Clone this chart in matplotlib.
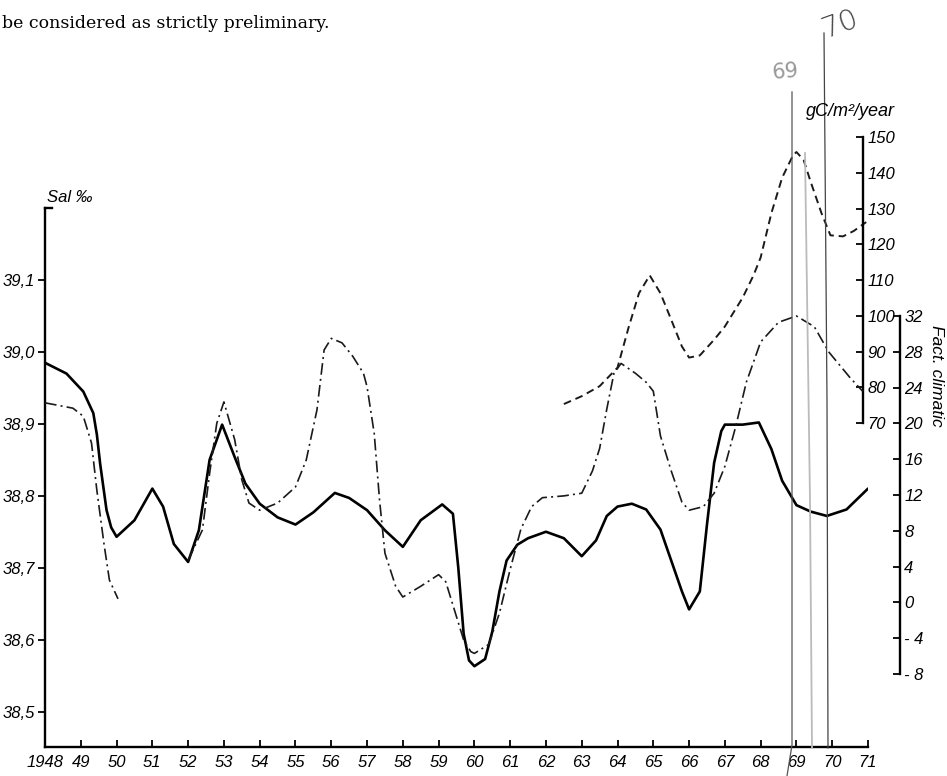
import matplotlib
matplotlib.use("Agg")
import matplotlib.pyplot as plt
import matplotlib.transforms as mtransforms
from matplotlib.lines import Line2D
import numpy as np

# salinity (solid line), Sal ‰
sal_year = [1948.0, 1948.6, 1949.07, 1949.35, 1949.45, 1949.54, 1949.72, 1949.85, 1950.0,
            1950.5, 1951.0, 1951.3, 1951.6, 1952.0, 1952.3, 1952.6, 1952.95, 1953.3, 1953.6,
            1954.0, 1954.5, 1955.0, 1955.5, 1956.1, 1956.5, 1957.0, 1957.5, 1958.0, 1958.5,
            1959.1, 1959.4, 1959.55, 1959.7, 1959.85, 1960.0, 1960.3, 1960.5, 1960.7, 1960.9,
            1961.2, 1961.5, 1962.0, 1962.5, 1963.0, 1963.4, 1963.7, 1964.0, 1964.4, 1964.8,
            1965.2, 1965.5, 1965.8, 1966.0, 1966.3, 1966.5, 1966.7, 1966.9, 1967.0, 1967.5,
            1967.95, 1968.3, 1968.6, 1969.0, 1969.4, 1969.85, 1970.4, 1971.0]
sal = [38.985, 38.970, 38.945, 38.915, 38.885, 38.845, 38.780, 38.756, 38.743,
       38.766, 38.810, 38.785, 38.733, 38.708, 38.752, 38.850, 38.899, 38.854, 38.817,
       38.789, 38.770, 38.760, 38.777, 38.804, 38.797, 38.780, 38.752, 38.729, 38.766,
       38.788, 38.775, 38.700, 38.608, 38.571, 38.563, 38.573, 38.611, 38.667, 38.710,
       38.732, 38.741, 38.750, 38.741, 38.716, 38.738, 38.772, 38.785, 38.789, 38.781,
       38.753, 38.710, 38.667, 38.642, 38.667, 38.760, 38.846, 38.890, 38.899, 38.899,
       38.902, 38.865, 38.821, 38.787, 38.778, 38.772, 38.781, 38.810]

# climatic factor (dash-dot line), gap between 1950 and 1952
fact_year = [1948.0, 1948.78, 1949.07, 1949.3, 1949.45, 1949.65, 1949.8, 1950.04, np.nan,
             1952.0, 1952.4, 1952.6, 1952.8, 1953.0, 1953.3, 1953.5, 1953.7, 1954.0, 1954.5,
             1955.0, 1955.3, 1955.6, 1955.8, 1956.0, 1956.3, 1956.6, 1956.9, 1957.0, 1957.2,
             1957.35, 1957.5, 1957.8, 1958.0, 1958.5, 1959.0, 1959.2, 1959.5, 1959.7, 1959.9,
             1960.0, 1960.4, 1960.7, 1961.0, 1961.3, 1961.6, 1961.9, 1962.5, 1963.0, 1963.3,
             1963.5, 1963.7, 1963.9, 1964.1, 1964.5, 1964.8, 1965.0, 1965.2, 1965.5, 1965.8,
             1966.0, 1966.4, 1966.7, 1967.0, 1967.3, 1967.6, 1968.0, 1968.5, 1969.0, 1969.5,
             1969.9, 1970.5, 1970.85]
fact = [22.3, 21.7, 20.8, 17.8, 12.5, 6.5, 2.5, 0.4, np.nan,
        4.7, 8.1, 14.4, 20.0, 22.4, 18.2, 13.7, 11.1, 10.3, 11.1,
        12.9, 15.9, 21.5, 28.2, 29.5, 29.0, 27.5, 25.6, 24.1, 18.9,
        11.4, 5.5, 1.8, 0.6, 1.8, 3.1, 2.3, -1.6, -4.2, -5.5,
        -5.7, -4.7, -1.2, 3.7, 8.2, 10.7, 11.7, 11.9, 12.2, 14.7,
        17.2, 21.6, 25.6, 26.7, 25.6, 24.6, 23.6, 18.6, 14.7, 11.2,
        10.3, 10.7, 12.2, 15.2, 19.6, 24.6, 29.1, 31.3, 32.0, 30.8,
        28.0, 25.1, 23.6]

# primary production (dashed line), gC/m2/year
prod_year = [1962.5, 1963.0, 1963.5, 1964.0, 1964.3, 1964.6, 1964.9, 1965.2, 1965.5, 1965.8,
             1966.0, 1966.3, 1966.7, 1967.0, 1967.5, 1967.8, 1968.0, 1968.3, 1968.6, 1968.9,
             1969.0, 1969.2, 1969.4, 1969.7, 1969.95, 1970.3, 1970.6, 1970.95]
prod = [75.3, 77.5, 80.3, 85.5, 96.4, 106.3, 111.3, 106.3, 98.9, 91.4,
        88.3, 88.9, 93.3, 97.0, 105.1, 111.3, 116.3, 128.7, 138.6, 144.8,
        145.8, 143.6, 137.4, 128.7, 122.5, 122.2, 123.7, 126.2]

years = list(range(1948, 1972))
year_labels = ["1948"] + [str(y)[2:] for y in years[1:]]
sal_ticks = [38.5, 38.6, 38.7, 38.8, 38.9, 39.0, 39.1]
sal_labels = ["38,5", "38,6", "38,7", "38,8", "38,9", "39,0", "39,1"]
prod_ticks = list(range(70, 151, 10))
fact_ticks = list(range(-8, 33, 4))
fact_labels = [str(v).replace("-", "- ") for v in fact_ticks]

W, H = 947, 776
fig = plt.figure(figsize=(W / 100, H / 100), dpi=100)
fig.patch.set_facecolor("white")

def fx(px):
    return px / W

def fy(py):
    return 1 - py / H

# axes box in pixels: x 45..868, y 80..747
top, bot = 80, 747
ax = fig.add_axes([fx(45), fy(bot), fx(868) - fx(45), fy(top) - fy(bot)])
ax.set_facecolor("none")

def lims(v1, p1, v2, p2):
    # value range of the axes box from two pixel anchors
    k = (v2 - v1) / (p2 - p1)
    return v1 + (bot - p1) * k, v1 + (top - p1) * k

ax.set_xlim(1948, 1971)
ax.set_ylim(*lims(39.0, 352, 38.5, 711.5))

ax_g = ax.twinx()
ax_g.set_ylim(*lims(150, 137, 70, 423))
ax_f = ax.twinx()
ax_f.set_ylim(*lims(32, 316, -8, 674))

tfont = dict(family="Liberation Sans", style="italic", size=12)

# salinity axis
for s in ["top", "right"]:
    ax.spines[s].set_visible(False)
ax.spines["left"].set_bounds(ax.get_ylim()[0], 39.2)
ax.spines["left"].set_linewidth(1.7)
ax.spines["bottom"].set_linewidth(1.7)
ax.set_yticks(sal_ticks)
ax.set_yticklabels(sal_labels, **tfont)
ax.tick_params(axis="y", direction="out", length=5, width=1.3, pad=2)
ax.set_xticks(years)
ax.set_xticklabels(year_labels, **tfont)
ax.tick_params(axis="x", direction="in", length=5, width=1.3, pad=6)
tr = mtransforms.blended_transform_factory(ax.transAxes, ax.transData)
ax.plot([0, 0.008], [39.2, 39.2], color="black", lw=1.7, transform=tr, clip_on=False)

# production axis
for s in ["top", "left", "bottom"]:
    ax_g.spines[s].set_visible(False)
ax_g.spines["right"].set_position(("axes", (863 - 45) / 823))
ax_g.spines["right"].set_bounds(70, 150)
ax_g.spines["right"].set_linewidth(1.7)
ax_g.set_yticks(prod_ticks)
ax_g.set_yticklabels([str(v) for v in prod_ticks], **tfont)
ax_g.tick_params(axis="y", direction="in", length=5, width=1.3, pad=3)

# climatic factor axis
for s in ["top", "left", "bottom"]:
    ax_f.spines[s].set_visible(False)
ax_f.spines["right"].set_position(("axes", (900 - 45) / 823))
ax_f.spines["right"].set_bounds(-8, 32)
ax_f.spines["right"].set_linewidth(1.7)
ax_f.set_yticks(fact_ticks)
ax_f.set_yticklabels(fact_labels, **tfont)
ax_f.tick_params(axis="y", direction="in", length=5, width=1.3, pad=3)

# curves
ax.plot(sal_year, sal, color="black", lw=1.9, solid_capstyle="round")
ax_f.plot(fact_year, fact, color="#1a1a1a", lw=1.2, dashes=(7, 2.5, 1.2, 2.5))
ax_g.plot(prod_year, prod, color="#1a1a1a", lw=1.4, dashes=(4, 2.5))

# axis titles
fig.text(fx(47), fy(197), "Sal ‰", ha="left", va="center", **tfont)
fig.text(fx(806), fy(111), "gC/m²/year", ha="left", va="center",
         family="Liberation Sans", style="italic", size=13)
fig.text(fx(936), fy(376), "Fact. climatic", ha="center", va="center", rotation=-90,
         family="Liberation Sans", style="italic", size=12.5)

# page text above the figure
fig.text(fx(2), fy(24), "be considered as strictly preliminary.", ha="left", va="center",
         family="DejaVu Serif", size=12.5)

# handwritten pencil marks
fig.add_artist(Line2D([fx(792), fx(792), fx(787)], [fy(92), fy(745), fy(776)],
                      color="#555555", lw=0.9))
fig.add_artist(Line2D([fx(824), fx(827), fx(828)], [fy(33), fy(400), fy(748)],
                      color="#444444", lw=0.9))
fig.add_artist(Line2D([fx(805), fx(810), fx(812)], [fy(153), fy(500), fy(748)],
                      color="#bbbbbb", lw=1.3))
fig.text(fx(785), fy(72), "69", ha="center", va="center", color="#999999",
         family="DejaVu Sans", size=15, rotation=5)
fig.text(fx(840), fy(24), "70", ha="center", va="center", color="#444444",
         family="DejaVu Sans", size=21, rotation=20, fontweight="light")

fig.savefig("out.png", dpi=100, facecolor="white")
